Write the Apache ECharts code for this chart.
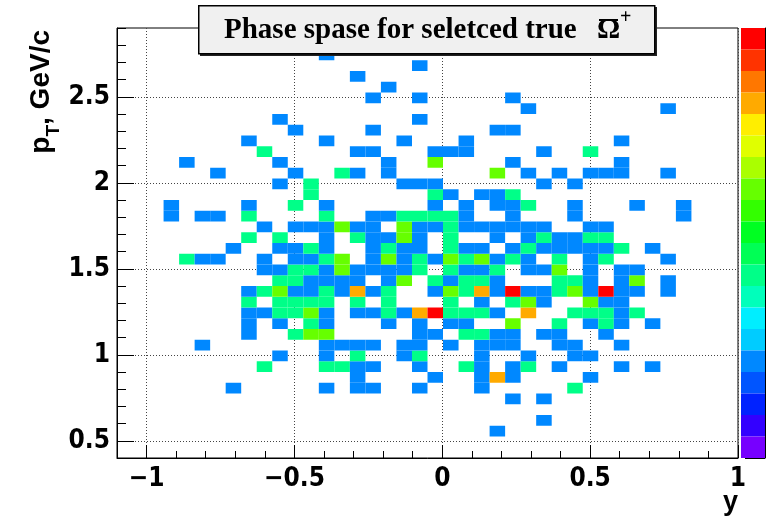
<!DOCTYPE html>
<html>
<head>
<meta charset="utf-8">
<script src="https://cdn.jsdelivr.net/npm/echarts@6/dist/echarts.min.js"></script>
<style>
html, body { margin: 0; padding: 0; background: #fff; }
#main { width: 774px; height: 519px; }
</style>
</head>
<body>
<div id="main"></div>
<script>
// binning of the histogram
var xMin = -1.1, xMax = 1.0, nBinsX = 40;
var yMin = 0.4, yMax = 2.9, nBinsY = 40;
var xMajor = [-1, -0.5, 0, 0.5, 1];
var yMajor = [0.5, 1, 1.5, 2, 2.5];
var zMax = 5;

// palette, bottom -> top
var palette = ['#7700ff', '#3300ff', '#0022ff', '#0055ff', '#0088ff', '#00ccff', '#00eeff', '#00ffbb',
    '#00ff88', '#00ff55', '#00ff22', '#33ff00', '#66ff00', '#aaff00', '#e0ff00', '#ffee00',
    '#ffaa00', '#ff7700', '#ff3300', '#ff0000'];

// entries per pT bin (index = pT bin from the bottom), each [y bin, entries]
var rows = [
    [],
    [],
    [[24,1]],
    [[27,1]],
    [],
    [[25,1],[27,1]],
    [[7,1],[13,1],[15,1],[16,1],[19,1],[23,1],[29,2]],
    [[15,1],[20,1],[23,1],[24,4],[25,1],[30,1]],
    [[9,2],[13,2],[14,2],[15,1],[16,1],[19,1],[22,2],[23,1],[25,1],[26,2],[28,1],[32,1],[34,1]],
    [[10,1],[13,1],[15,2],[18,1],[19,2],[23,1],[26,1],[29,1],[30,1]],
    [[5,1],[13,1],[14,1],[15,1],[16,1],[18,1],[19,1],[21,1],[23,1],[24,1],[25,1],[28,1],[29,1],[32,1]],
    [[8,1],[11,2],[12,3],[13,3],[19,1],[20,1],[22,2],[23,2],[24,1],[25,1],[27,1],[28,1],[31,1]],
    [[8,1],[10,1],[12,2],[13,1],[17,1],[19,1],[21,1],[22,1],[25,3],[28,2],[30,1],[31,2],[32,1],[34,1]],
    [[8,1],[9,1],[10,2],[11,2],[12,3],[13,1],[15,1],[16,1],[17,2],[18,1],[19,4],[20,5],[21,2],[22,2],[23,2],[24,1],[26,4],[29,2],[30,2],[31,2],[32,1],[33,2]],
    [[8,2],[10,2],[11,2],[12,2],[13,2],[15,2],[17,2],[21,2],[23,1],[25,2],[26,3],[27,1],[30,3],[31,1],[32,1]],
    [[8,1],[9,2],[10,3],[11,1],[12,1],[13,2],[14,1],[15,4],[16,1],[17,2],[20,1],[21,3],[22,2],[23,4],[24,1],[25,5],[26,1],[27,1],[28,2],[29,3],[30,1],[31,5],[32,1],[33,1],[35,1]],
    [[10,2],[11,2],[12,1],[13,1],[14,1],[15,1],[17,1],[18,3],[20,2],[21,1],[22,2],[23,2],[24,1],[28,2],[29,2],[30,1],[32,1],[33,3],[35,1]],
    [[9,1],[10,1],[11,2],[12,2],[13,1],[14,3],[15,1],[16,1],[17,1],[18,1],[19,2],[21,2],[22,1],[23,1],[24,2],[26,1],[27,1],[28,3],[30,1],[32,1],[33,1]],
    [[4,2],[5,1],[6,1],[9,1],[11,1],[12,1],[13,2],[14,3],[16,1],[17,3],[18,1],[19,2],[20,1],[21,3],[22,2],[23,3],[24,1],[25,2],[26,1],[28,2],[30,1],[31,2],[35,1]],
    [[7,1],[10,1],[11,1],[12,2],[13,1],[16,1],[17,2],[18,1],[19,1],[21,2],[22,1],[23,1],[25,1],[26,2],[27,1],[28,1],[29,1],[30,1],[31,1],[32,2],[34,1]],
    [[8,2],[10,2],[13,1],[15,2],[16,1],[17,1],[18,3],[19,1],[21,2],[24,1],[26,1],[27,2],[28,1],[29,1],[30,2],[31,2]],
    [[9,1],[11,1],[12,1],[13,1],[14,3],[15,1],[16,1],[18,3],[19,1],[20,1],[21,2],[22,1],[23,1],[24,1],[25,1],[26,1],[27,1],[30,1],[31,1]],
    [[3,1],[5,1],[6,1],[8,2],[13,2],[16,1],[17,1],[18,2],[19,2],[20,2],[21,2],[22,1],[25,1],[29,1],[36,1]],
    [[3,1],[8,1],[11,2],[13,1],[20,1],[22,1],[24,1],[25,1],[26,2],[29,1],[33,1],[36,1]],
    [[12,2],[20,2],[21,1],[23,1],[24,1],[25,2]],
    [[10,1],[12,2],[18,1],[19,1],[20,1],[27,1],[29,1]],
    [[6,1],[11,1],[14,2],[15,1],[17,1],[24,3],[26,1],[28,1],[30,1],[31,1],[32,1],[35,1]],
    [[4,1],[10,1],[17,1],[20,3],[25,1],[32,1]],
    [[9,2],[15,1],[16,1],[20,1],[21,1],[22,1],[27,1],[30,2]],
    [[8,1],[13,1],[18,1],[22,1],[32,1]],
    [[11,1],[16,1],[24,1],[25,1]],
    [[10,1],[19,1]],
    [[26,1],[35,1]],
    [[16,1],[19,1],[25,1]],
    [[17,1]],
    [[15,1]],
    [[19,1]],
    [[13,1]],
    [],
    []
];

var dx = (xMax - xMin) / nBinsX;
var dy = (yMax - yMin) / nBinsY;
var cells = [];
rows.forEach(function(row, j) {
    row.forEach(function(c) {
        cells.push([xMin + c[0] * dx, yMin + j * dy, c[1]]);
    });
});

var labelFont = {
    color: '#000',
    fontFamily: "'Liberation Sans Narrow', 'DejaVu Sans Condensed', 'Liberation Sans', sans-serif",
    fontWeight: 'bold',
    fontSize: 26
};
function minus(v) {
    return v < 0 ? '\u2212' + Math.abs(v) : String(v);
}
var gridLine = { show: true, lineStyle: { color: '#444', width: 1, type: [1, 2] } };

var chart = echarts.init(document.getElementById('main'));
chart.setOption({
    animation: false,
    grid: [
        { left: 117, top: 28, width: 621, height: 430, show: true, borderColor: '#000', borderWidth: 1 },
        { left: 741, top: 28, width: 24, height: 430, show: false }
    ],
    xAxis: [
        { // minor ticks, data scale
            type: 'value', gridIndex: 0, position: 'bottom', min: xMin, max: xMax, interval: 0.1,
            axisLine: { show: true, onZero: false, lineStyle: { color: '#000', width: 1 } },
            axisTick: { show: true, inside: true, length: 7, lineStyle: { color: '#000' } },
            axisLabel: { show: false }, splitLine: { show: false }
        },
        { // major ticks and labels
            type: 'value', gridIndex: 0, position: 'bottom', min: xMin, max: xMax,
            axisLine: { show: false, onZero: false },
            axisTick: { show: true, inside: true, length: 13, customValues: xMajor, lineStyle: { color: '#000' } },
            axisLabel: Object.assign({ show: true, margin: 8, customValues: xMajor, formatter: minus }, labelFont),
            splitLine: gridLine
        },
        { type: 'value', gridIndex: 1, show: false, min: 0, max: 1 }
    ],
    yAxis: [
        {
            type: 'value', gridIndex: 0, position: 'left', min: yMin, max: yMax, interval: 0.1,
            axisLine: { show: true, onZero: false, lineStyle: { color: '#000', width: 1 } },
            axisTick: { show: true, inside: true, length: 9, lineStyle: { color: '#000' } },
            axisLabel: { show: false }, splitLine: { show: false }
        },
        {
            type: 'value', gridIndex: 0, position: 'left', min: yMin, max: yMax,
            axisLine: { show: false, onZero: false },
            axisTick: { show: true, inside: true, length: 17, customValues: yMajor, lineStyle: { color: '#000' } },
            axisLabel: Object.assign({ show: true, margin: 7, customValues: yMajor }, labelFont),
            splitLine: gridLine
        },
        { // palette axis
            type: 'value', gridIndex: 1, position: 'right', min: 0, max: zMax, interval: 0.5,
            axisLine: { show: true, onZero: false, lineStyle: { color: '#000', width: 1 } },
            axisTick: { show: true, inside: true, length: 20, lineStyle: { color: '#000' } },
            axisLabel: { show: false }, splitLine: { show: false }
        }
    ],
    visualMap: {
        type: 'piecewise', dimension: 2, seriesIndex: 0,
        orient: 'vertical', right: 9, top: 28, padding: 0,
        itemWidth: 24, itemHeight: 21.5, itemGap: 0, itemSymbol: 'rect',
        showLabel: false, selectedMode: false, hoverLink: false,
        pieces: palette.map(function(c, k) {
            var p = { gte: k * zMax / palette.length, color: c };
            if (k < palette.length - 1) p.lt = (k + 1) * zMax / palette.length;
            else p.lte = zMax;
            return p;
        })
    },
    series: [{
        type: 'custom',
        xAxisIndex: 0, yAxisIndex: 0,
        data: cells,
        encode: { x: 0, y: 1 },
        renderItem: function(params, api) {
            var p0 = api.coord([api.value(0), api.value(1) + dy]);
            var p1 = api.coord([api.value(0) + dx, api.value(1)]);
            return {
                type: 'rect',
                shape: { x: p0[0], y: p0[1], width: p1[0] - p0[0], height: p1[1] - p0[1] },
                style: { fill: api.visual('color') }
            };
        }
    }],
    graphic: [
        { type: 'rect', left: 200, top: 7, z: 10, shape: { width: 457, height: 49 }, style: { fill: '#222' } },
        { type: 'rect', left: 198, top: 5, z: 11, shape: { width: 456, height: 48 }, style: { fill: '#f0f0f0', stroke: '#000', lineWidth: 1.5 } },
        { type: 'text', left: 224, top: 16, z: 12, style: { text: 'Phase spase for seletced true', font: 'bold 29px "Liberation Serif", serif', fill: '#000' } },
        { type: 'text', left: 597, top: 16, z: 12, style: { text: '\u03A9', font: 'bold 29px "Liberation Serif", serif', fill: '#000' } },
        { type: 'line', z: 12, shape: { x1: 599, y1: 20, x2: 618, y2: 20 }, style: { stroke: '#000', lineWidth: 2 } },
        { type: 'text', left: 620, top: 8, z: 12, style: { text: '+', font: 'bold 20px "Liberation Serif", serif', fill: '#000' } },
        { type: 'text', left: 27, top: 30, rotation: Math.PI / 2, z: 12,
          style: { text: '{m|p}{s|T}{m|, GeV/c}', fill: '#000',
                   rich: { m: { fontFamily: "'Liberation Sans', sans-serif", fontWeight: 'bold', fontSize: 28, verticalAlign: 'top', lineHeight: 36 },
                           s: { fontFamily: "'Liberation Sans', sans-serif", fontWeight: 'bold', fontSize: 19, verticalAlign: 'bottom', lineHeight: 36 } } } },
        { type: 'text', right: 36, top: 489, z: 12, style: { text: 'y', font: 'bold 27px "Liberation Sans", sans-serif', fill: '#000' } }
    ]
});
</script>
</body>
</html>
